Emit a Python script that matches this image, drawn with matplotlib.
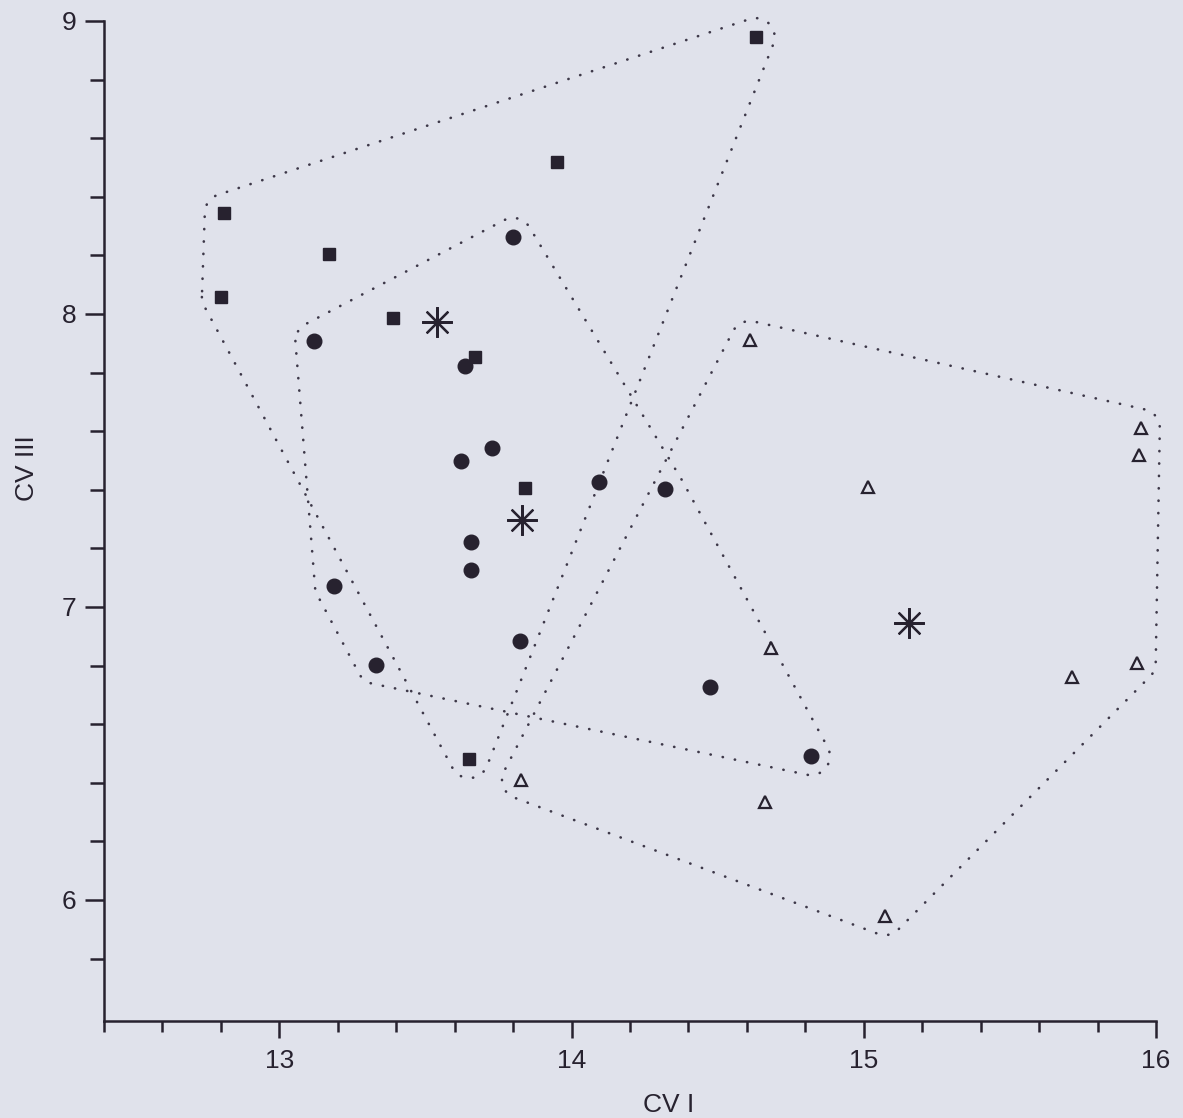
import numpy as np
import matplotlib.pyplot as plt
from matplotlib.ticker import FixedLocator

plt.rcParams['font.family'] = ['Liberation Sans', 'DejaVu Sans']

# ---- data (CV I, CV III) ----
sq_x = [14.63, 13.95, 12.81, 13.17, 12.80, 13.39, 13.67, 13.84, 13.65]
sq_y = [8.945, 8.52, 8.345, 8.205, 8.058, 7.986, 7.853, 7.406, 6.481]

ci_x = [13.80, 13.12, 13.635, 13.727, 13.62, 14.093, 14.32, 13.656, 13.656,
        13.187, 13.823, 13.331, 14.473, 14.819]
ci_y = [8.263, 7.908, 7.823, 7.543, 7.498, 7.427, 7.403, 7.222, 7.126,
        7.072, 6.884, 6.802, 6.727, 6.491]

tr_x = [14.61, 15.014, 15.948, 15.941, 14.682, 15.934, 15.712, 14.661, 13.827, 15.072]
tr_y = [7.911, 7.41, 7.611, 7.519, 6.86, 6.809, 6.761, 6.334, 6.41, 5.945]

# group centroids
st_x = [13.539, 13.83, 15.154]
st_y = [7.973, 7.297, 6.945]

BG = '#e0e2eb'
INK = '#27222f'


def hull(p):
    # monotone chain convex hull
    p = sorted(map(tuple, p))
    def cross(o, a, b):
        return (a[0]-o[0])*(b[1]-o[1]) - (a[1]-o[1])*(b[0]-o[0])
    lo, up = [], []
    for q in p:
        while len(lo) >= 2 and cross(lo[-2], lo[-1], q) <= 0:
            lo.pop()
        lo.append(q)
    for q in reversed(p):
        while len(up) >= 2 and cross(up[-2], up[-1], q) <= 0:
            up.pop()
        up.append(q)
    return np.array(lo[:-1] + up[:-1])


def outline(ax, xs, ys, r=19):
    # convex hull of the group, grown by r pixels, drawn dotted
    d = ax.transData.transform(np.column_stack([xs, ys]))
    h = hull(d)
    a = np.linspace(0, 2*np.pi, 90, endpoint=False)
    ring = (h[:, None, :] + r*np.stack([np.cos(a), np.sin(a)], -1)[None]).reshape(-1, 2)
    h2 = hull(ring)
    h2 = np.vstack([h2, h2[:1]])
    pts = ax.transData.inverted().transform(h2)
    ax.plot(pts[:, 0], pts[:, 1], ls=(0, (0.1, 4.6)), lw=1.9, color='#3d3848',
            dash_capstyle='round', zorder=1, clip_on=False)


fig = plt.figure(figsize=(11.83, 11.18), dpi=100, facecolor=BG)
ax = fig.add_axes([104/1183, 97/1118, 1052/1183, 1000/1118])
ax.set_facecolor(BG)
ax.set_xlim(12.4, 16.0)
ax.set_ylim(5.587, 9.0)

for s in ['top', 'right']:
    ax.spines[s].set_visible(False)
for s in ['left', 'bottom']:
    ax.spines[s].set_linewidth(1.8)
    ax.spines[s].set_color(INK)

ax.xaxis.set_major_locator(FixedLocator([13, 14, 15, 16]))
ax.xaxis.set_minor_locator(FixedLocator(np.round(np.arange(12.4, 16.0, 0.2), 1)))
ax.yaxis.set_major_locator(FixedLocator([6, 7, 8, 9]))
ax.yaxis.set_minor_locator(FixedLocator(np.round(np.arange(5.8, 9.0, 0.2), 1)))
ax.tick_params(axis='x', which='major', length=12, width=1.8, color=INK,
               labelsize=19, pad=8, labelcolor=INK)
ax.tick_params(axis='x', which='minor', length=8, width=1.8, color=INK)
ax.tick_params(axis='y', which='major', length=14, width=1.8, color=INK,
               labelsize=19, pad=6, labelcolor=INK)
ax.tick_params(axis='y', which='minor', length=10, width=1.8, color=INK)

ax.set_xlabel('CV I', fontsize=19, color=INK)
ax.xaxis.set_label_coords((669-104)/1052, -0.072)
ax.set_ylabel('CV III', fontsize=19, color=INK)
ax.yaxis.set_label_coords(-0.062, (1021-468)/1000)

outline(ax, sq_x, sq_y)
outline(ax, ci_x, ci_y)
outline(ax, tr_x, tr_y)

ax.plot(sq_x, sq_y, 's', ms=9, color=INK, zorder=3)
ax.plot(ci_x, ci_y, 'o', ms=10.5, color=INK, zorder=3)
ax.plot(tr_x, tr_y, '^', ms=9, mfc='none', mec=INK, mew=1.6, zorder=3)
ax.plot(st_x, st_y, marker=(8, 2, 0), ls='none', ms=22, mec=INK, mew=1.6, zorder=3)

fig.savefig('out.png', dpi=100, facecolor=BG)
